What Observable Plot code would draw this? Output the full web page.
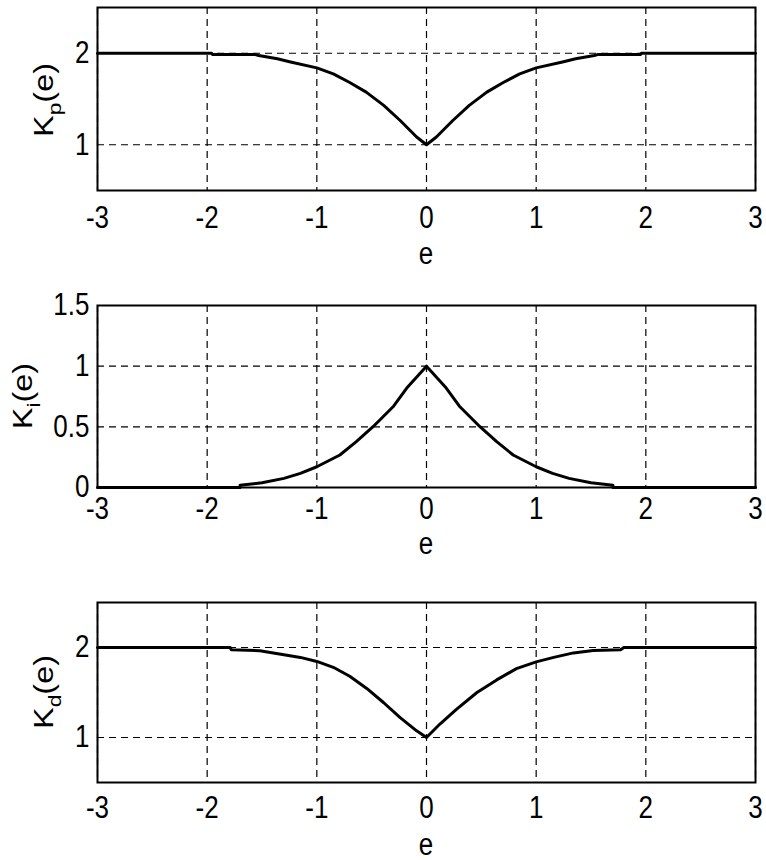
<!DOCTYPE html>
<html><head><meta charset="utf-8">
<script src="https://cdn.jsdelivr.net/npm/d3@7"></script>
<script src="https://cdn.jsdelivr.net/npm/@observablehq/plot@0.6"></script>
<style>body{margin:0;background:#fff;} #chart svg{display:block;}</style>
</head><body><div id="chart"></div>
<script>
const xTicks = [-3, -2, -1, 0, 1, 2, 3];
const xLabel = "e";

// K_p(e)
const kpE = [-3, -1.96, -1.95, -1.56, -1.53, -1.36, -1.24, -1.0, -0.85, -0.70, -0.55, -0.39, -0.24, -0.09, 0,
             0.09, 0.24, 0.39, 0.55, 0.70, 0.85, 1.0, 1.24, 1.36, 1.53, 1.56, 1.95, 1.96, 3];
const kpV = [2, 2, 1.985, 1.985, 1.975, 1.94, 1.905, 1.84, 1.775, 1.68, 1.575, 1.43, 1.265, 1.085, 1.0,
             1.085, 1.265, 1.43, 1.575, 1.68, 1.775, 1.84, 1.905, 1.94, 1.975, 1.985, 1.985, 2, 2];
const kpTicks = [1, 2];

// K_i(e)
const kiE = [-3, -1.70, -1.70, -1.5, -1.3, -1.15, -1.0, -0.79, -0.64, -0.485, -0.30, -0.18, 0,
             0.18, 0.30, 0.485, 0.64, 0.79, 1.0, 1.15, 1.3, 1.5, 1.70, 1.70, 3];
const kiV = [0, 0, 0.019, 0.039, 0.075, 0.116, 0.171, 0.268, 0.378, 0.503, 0.67, 0.82, 1.0,
             0.82, 0.67, 0.503, 0.378, 0.268, 0.171, 0.116, 0.075, 0.039, 0.019, 0, 0];
const kiTicks = [0, 0.5, 1, 1.5];

// K_d(e)
const kdE = [-3, -1.79, -1.78, -1.52, -1.30, -1.15, -1.0, -0.85, -0.70, -0.545, -0.39, -0.24, -0.09, 0,
             0.12, 0.27, 0.46, 0.64, 0.82, 1.0, 1.16, 1.34, 1.52, 1.77, 1.80, 3];
const kdV = [2, 2, 1.975, 1.965, 1.92, 1.89, 1.845, 1.78, 1.68, 1.545, 1.386, 1.22, 1.074, 1.0,
             1.147, 1.31, 1.50, 1.64, 1.765, 1.84, 1.89, 1.94, 1.967, 1.975, 2.0, 2];
const kdTicks = [1, 2];

const FONT = "'Liberation Sans', Arial, Helvetica, sans-serif";
const FS = 26;
const STRETCH = 1.2; // glyphs in the reference are vertically stretched
const fmt = d => String(d);

function panel(cfg) {
  const data = cfg.e.map((d, i) => ({e: d, k: cfg.v[i]}));
  const svg = Plot.plot({
    width: 766, height: cfg.height,
    marginLeft: 97, marginRight: 11, marginTop: cfg.mt, marginBottom: cfg.mb,
    style: {fontFamily: FONT, fontSize: FS + "px", color: "black", background: "white", overflow: "visible"},
    x: {domain: [-3, 3]},
    y: {domain: cfg.yDomain},
    marks: [
      Plot.gridX(xTicks, {stroke: "black", strokeOpacity: 1, strokeWidth: 1.2, strokeDasharray: "7,5"}),
      Plot.gridY(cfg.ticks, {stroke: "black", strokeOpacity: 1, strokeWidth: 1.2, strokeDasharray: "7,5"}),
      Plot.line(data, {x: "e", y: "k", stroke: "black", strokeWidth: 3}),
      Plot.frame({stroke: "black", strokeWidth: 2}),
      Plot.axisX(xTicks, {tickSize: 0, tickPadding: cfg.xpad, fontSize: FS, tickFormat: fmt, label: null}),
      Plot.axisY(cfg.ticks, {tickSize: 0, tickPadding: 8, fontSize: FS, tickFormat: fmt, label: null})
    ]
  });
  const s = d3.select(svg);
  s.selectAll("g[aria-label$='tick label'] text").each(function() {
    const el = d3.select(this);
    const tr = el.attr("transform") || "";
    el.attr("font-size", FS).attr("transform", `${tr} scale(1,${STRETCH})`);
  });
  const t = s.append("text")
    .attr("transform", `translate(${cfg.ylx},${cfg.yly}) scale(1,${STRETCH}) rotate(-90)`)
    .attr("text-anchor", "middle")
    .attr("font-family", FONT)
    .attr("font-size", 27)
    .attr("fill", "black");
  t.append("tspan").text("K");
  t.append("tspan").attr("dy", 8).attr("font-size", 19).text(cfg.sub);
  t.append("tspan").attr("dy", -8).text("(e)");
  s.append("text")
    .attr("transform", `translate(426,${cfg.xly}) scale(1,${STRETCH})`)
    .attr("text-anchor", "middle")
    .attr("font-family", FONT)
    .attr("font-size", FS)
    .attr("fill", "black")
    .text(xLabel);
  return svg;
}

const chart = document.getElementById("chart");
chart.append(panel({e: kpE, v: kpV, ticks: kpTicks, yDomain: [0.5, 2.5], sub: "p", xpad: 15,
  height: 285, mt: 7, mb: 95, ylx: 53, yly: 100, xly: 264}));
chart.append(panel({e: kiE, v: kiV, ticks: kiTicks, yDomain: [0, 1.5], sub: "i", xpad: 9,
  height: 290, mt: 20, mb: 88, ylx: 32, yly: 111, xly: 269}));
chart.append(panel({e: kdE, v: kdV, ticks: kdTicks, yDomain: [0.5, 2.5], sub: "d", xpad: 13,
  height: 285, mt: 27, mb: 78, ylx: 53, yly: 117, xly: 280}));
</script>
</body></html>
